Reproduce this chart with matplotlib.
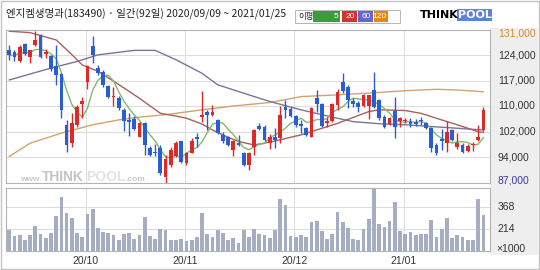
import matplotlib
matplotlib.use('Agg')
import matplotlib.pyplot as plt
import matplotlib.transforms as mtransforms
from matplotlib.patches import Rectangle
import numpy as np
import pandas as pd

plt.rcParams['font.family'] = ['Noto Sans CJK KR', 'DejaVu Sans']

# 일봉 데이터 (단위: 천원)
opens = [125.0, 124.4, 121.8, 126.9, 123.0, 126.6, 129.5, 124.0, 123.4, 120.5,
         118.2, 103.6, 98.3, 103.6, 109.5, 116.0, 126.3, 119.9, 118.9, 114.8,
         111.5, 111.3, 107.9, 105.1, 105.3, 100.2, 104.2, 96.9, 95.9, 96.9,
         88.7, 92.1, 94.5, 98.8, 92.5, 95.6, 100.2, 105.8, 107.4, 106.5,
         105.0, 100.7, 100.0, 96.4, 98.5, 95.6, 92.1, 97.3, 103.3, 103.1,
         98.3, 100.0, 99.7, 108.7, 108.1, 106.2, 103.8, 102.8, 100.2, 111.2,
         109.6, 104.0, 104.8, 109.3, 116.0, 114.6, 110.3, 109.8, 109.0, 109.0,
         113.6, 110.6, 105.8, 103.9, 107.7, 104.8, 104.6, 104.5, 104.5, 105.0,
         104.2, 102.6, 97.8, 99.5, 98.3, 102.1, 97.2, 97.8, 96.2, 97.8,
         99.3, 102.1]
highs = [126.6, 125.1, 126.6, 127.1, 125.1, 130.6, 129.8, 125.3, 123.7, 126.6,
         118.4, 105.0, 106.9, 109.3, 111.5, 120.8, 129.0, 120.8, 119.4, 115.1,
         114.5, 112.0, 108.4, 107.0, 106.0, 104.5, 104.5, 97.4, 98.0, 97.8,
         94.9, 97.3, 98.8, 99.0, 95.9, 99.7, 101.2, 113.2, 107.9, 109.3,
         105.2, 101.6, 100.4, 99.1, 100.7, 95.9, 95.9, 102.3, 104.0, 103.6,
         101.0, 102.6, 109.0, 110.8, 108.7, 106.5, 105.0, 103.1, 108.6, 113.6,
         109.8, 105.8, 109.8, 113.8, 118.4, 115.1, 111.2, 110.3, 112.5, 112.2,
         118.9, 111.0, 106.5, 105.8, 111.7, 105.8, 105.6, 105.5, 105.2, 105.8,
         104.5, 103.1, 98.3, 102.3, 104.8, 102.3, 101.2, 98.3, 98.1, 98.6,
         103.6, 108.8]
lows = [122.3, 121.8, 121.6, 123.7, 121.3, 126.3, 122.7, 122.7, 119.2, 115.1,
        105.5, 95.9, 97.3, 103.1, 105.5, 114.0, 121.3, 118.0, 114.6, 111.2,
        109.0, 107.9, 101.7, 100.3, 102.0, 100.0, 95.0, 94.5, 94.5, 89.2,
        87.0, 91.6, 94.3, 92.7, 92.1, 95.4, 97.3, 104.5, 102.1, 106.2,
        101.0, 98.3, 97.5, 94.7, 97.5, 91.8, 90.6, 95.0, 102.1, 98.8,
        96.6, 96.9, 98.3, 105.5, 105.8, 103.1, 101.2, 100.4, 100.0, 107.4,
        103.1, 103.1, 104.5, 107.9, 112.7, 108.4, 108.6, 107.4, 108.6, 105.2,
        108.4, 105.0, 102.6, 103.6, 99.7, 103.1, 104.0, 103.1, 103.3, 103.6,
        102.3, 95.9, 94.9, 96.4, 95.9, 99.0, 96.6, 95.6, 95.9, 96.2,
        98.8, 101.7]
closes = [123.7, 123.2, 126.1, 124.0, 125.0, 128.0, 123.0, 124.4, 119.6, 118.0,
          107.9, 97.8, 104.0, 108.8, 110.5, 120.5, 123.7, 118.4, 115.1, 111.7,
          112.0, 108.4, 104.8, 104.5, 102.4, 104.2, 97.8, 94.8, 95.6, 89.7,
          93.9, 96.4, 98.3, 93.0, 95.4, 98.8, 99.6, 106.5, 106.5, 107.4,
          101.2, 98.8, 97.8, 98.8, 97.8, 92.1, 95.6, 102.1, 102.3, 99.3,
          100.2, 99.3, 106.5, 107.9, 106.2, 103.6, 103.3, 100.7, 108.4, 109.6,
          103.3, 104.8, 109.6, 112.9, 113.2, 110.8, 109.6, 108.6, 112.2, 112.2,
          108.6, 105.5, 102.9, 105.5, 102.9, 105.5, 105.0, 103.9, 103.9, 104.6,
          102.6, 96.9, 95.4, 98.8, 101.4, 99.3, 98.3, 95.9, 97.5, 98.1,
          100.2, 107.9]
volumes = [203, 160, 172, 136, 172, 234, 179, 148, 187, 303,
           435, 327, 287, 187, 155, 315, 354, 222, 191, 184,
           172, 132, 179, 187, 143, 167, 299, 160, 143, 210,
           206, 132, 136, 141, 124, 136, 155, 323, 179, 155,
           203, 187, 136, 148, 115, 203, 155, 210, 179, 167,
           148, 203, 423, 377, 160, 155, 172, 155, 258, 268,
           196, 143, 179, 334, 258, 222, 143, 136, 215, 280,
           513, 246, 227, 268, 399, 198, 179, 191, 172, 179,
           175, 275, 155, 215, 287, 148, 172, 155, 136, 132,
           423, 311]

# 이동평균선 (화면에서 읽은 값)
ma20_idx = [0, 4, 9, 12, 14, 17, 21, 25, 29, 32, 34, 37, 39, 42, 44, 47, 50,
            56, 63, 69, 71, 76, 79, 83, 87, 90, 91]
ma20_val = [130.5, 130.1, 128.0, 123.8, 120.8, 119.0, 115.2, 111.2, 106.9, 106.1,
            105.5, 103.8, 102.1, 100.0, 98.8, 97.8, 98.6, 100.7, 104.0, 107.4,
            107.9, 107.7, 106.9, 105.0, 103.1, 101.6, 101.4]
ma60_idx = [0, 8, 13, 17, 24, 28, 32, 37, 40, 46, 50, 56, 62, 66, 71, 76, 81, 86, 91]
ma60_val = [116.5, 119.9, 121.8, 123.7, 125.0, 125.0, 122.3, 118.4, 115.1, 112.2,
            110.3, 107.9, 105.8, 104.5, 103.9, 103.6, 103.1, 102.6, 102.1]
ma120_idx = [0, 4, 10, 16, 21, 25, 30, 37, 43, 50, 56, 63, 69, 76, 82, 86, 91]
ma120_val = [94.5, 98.3, 101.2, 103.6, 105.0, 105.8, 106.5, 107.9, 109.0, 110.0,
             111.7, 112.2, 112.7, 113.4, 113.8, 113.6, 113.1]

price_labels = ['87,000', '94,000', '102,000', '110,000', '117,000', '124,000', '131,000']
vol_labels = ['214', '368']
month_idx = [15, 34, 55, 76]
month_labels = ['20/10', '20/11', '20/12', '21/01']

df = pd.DataFrame({'o': opens, 'h': highs, 'l': lows, 'c': closes, 'v': volumes}) * 1.0
df[['o', 'h', 'l', 'c']] *= 1000
df['ma5'] = df['c'].rolling(5, min_periods=1).mean()
x = np.arange(len(df))

UP, DOWN = '#dc2a2a', '#2a5cd2'
GRID = '#dddddd'
EDGE = '#b4b4b4'
NARROW = ['Liberation Sans Narrow', 'Liberation Sans']

W, H = 540, 270
fig = plt.figure(figsize=(W / 100, H / 100), dpi=100)
fig.patch.set_facecolor('white')


def box(x0, y0, x1, y1):
    return [x0 / W, 1 - y1 / H, (x1 - x0) / W, (y1 - y0) / H]


# 오른쪽 눈금 영역 배경
fig.patches.append(Rectangle((490 / W, 1 - 255 / H), 48 / W, 227 / H,
                             transform=fig.transFigure, facecolor='#eeeeee',
                             edgecolor='none', zorder=-2))
fig.patches.append(Rectangle((1 / W, 1 / H), 538 / W, 268 / H, transform=fig.transFigure,
                             facecolor='none', edgecolor='#c4c4c4', lw=1, zorder=-1))

ax = fig.add_axes(box(6, 29.5, 490, 182.5))
axv = fig.add_axes(box(6, 188, 490, 251))

lo, hi = 87000, 131000
ticks = np.linspace(lo, hi, 7)
ax.set_ylim(lo, hi)
ax.set_xlim(-0.63, 92.27)
for t in ticks[1:-1]:
    ax.axhline(t, color=GRID, lw=0.8, zorder=0)
for m in month_idx:
    ax.axvline(m - 0.3, color=GRID, lw=0.8, zorder=0)
    axv.axvline(m - 0.3, color=GRID, lw=0.8, zorder=0)

# 워터마크
wm = [('www.', 20, 6, '#c8c8c8'), ('THINK', 42, 10, '#c4c4c4'),
      ('POOL', 86, 10, '#e2e2e2'), ('.com', 125, 6, '#c8c8c8')]
for txt, px, fs, col in wm:
    ax.text((px - 6) / 484, 0.012, txt, transform=ax.transAxes, fontsize=fs, color=col,
            fontweight='bold', family='Liberation Sans', zorder=1)

# 이동평균선
ax.plot(np.array(ma120_idx), np.array(ma120_val) * 1000, color='#d2a46a', lw=1.0, zorder=2)
ax.plot(np.array(ma60_idx), np.array(ma60_val) * 1000, color='#7d739a', lw=1.0, zorder=2)
ax.plot(np.array(ma20_idx), np.array(ma20_val) * 1000, color='#a86060', lw=1.0, zorder=2)
ax.plot(x, df['ma5'], color='#86b86a', lw=1.0, zorder=2)

# 캔들
up = df['c'] >= df['o']
colors = np.where(up, UP, DOWN)
body_lo = np.minimum(df['o'], df['c'])
body_h = np.maximum((df['c'] - df['o']).abs(), 300)
ax.vlines(x, df['l'], df['h'], colors=colors, lw=1.0, zorder=3)
ax.bar(x, body_h, bottom=body_lo, width=0.72, color=colors, zorder=4)

# 오른쪽 가격 눈금
tr = mtransforms.blended_transform_factory(ax.transAxes, ax.transData)
label_pos = list(ticks)
label_pos[0] = ticks[0] + 600
label_pos[-1] = ticks[-1] - 1200
for i, (p, lab) in enumerate(zip(label_pos, price_labels)):
    col = '#333333'
    if i == 0:
        col = '#3a3aa0'
    if i == len(price_labels) - 1:
        col = '#d08a3a'
    ax.text(1.016, p, lab, transform=tr, fontsize=7.5, color=col, va='center',
            ha='left', family=NARROW, clip_on=False)

for a in (ax, axv):
    a.set_xticks([])
    a.set_yticks([])
    for s in a.spines.values():
        s.set_color(EDGE)
        s.set_linewidth(0.8)
    a.set_facecolor('white')

# 거래량
axv.set_xlim(-0.63, 92.27)
axv.set_ylim(57, 500)
vol_ticks = [214, 368]
for t in vol_ticks:
    axv.axhline(t, color=GRID, lw=0.8, zorder=0)
axv.bar(x, df['v'], width=0.72, color='#a5adc2', zorder=2)
trv = mtransforms.blended_transform_factory(axv.transAxes, axv.transData)
for t, lab in zip(vol_ticks, vol_labels):
    axv.text(1.016, t, lab, transform=trv, fontsize=7.5, color='#333333', va='center',
             ha='left', family=NARROW, clip_on=False)
axv.text(1.012, 73, '×1000', transform=trv, fontsize=7.5, color='#333333', va='center',
         ha='left', family=NARROW, clip_on=False)

trx = mtransforms.blended_transform_factory(axv.transData, axv.transAxes)
for m, lab in zip(month_idx, month_labels):
    axv.text(m - 0.3, -0.085, lab, transform=trx, fontsize=7.5, color='#333333', ha='center',
             va='top', family=NARROW, clip_on=False)

# 헤더
fig.text(6 / W, 1 - 13 / H, '엔지켐생명과(183490) · 일간(92일) 2020/09/09 ~ 2021/01/25',
         fontsize=7.5, color='#222222', va='center', ha='left')
fig.patches.append(Rectangle((295 / W, 1 - 23 / H), 105 / W, 13 / H, transform=fig.transFigure,
                             facecolor='white', edgecolor='#aaaaaa', lw=0.6, zorder=1))
fig.text(298 / W, 1 - 16.5 / H, '이평', fontsize=6, color='#222222', va='center', ha='left',
         zorder=5)
badges = [('5', '#3c9c3c', 313, 340), ('20', '#cf3333', 342, 357),
          ('60', '#6666cc', 358, 373), ('120', '#e08a14', 374, 388)]
for lab, col, x0, x1 in badges:
    fig.patches.append(Rectangle((x0 / W, 1 - 22 / H), (x1 - x0) / W, 11 / H,
                                 transform=fig.transFigure, facecolor=col, edgecolor='none',
                                 zorder=2))
    fig.text((x1 - 2) / W, 1 - 16.5 / H, lab, fontsize=6, color='white', va='center',
             ha='right', family=NARROW, zorder=5)

fig.text(420 / W, 1 - 15 / H, 'THINK', fontsize=8, color='black', fontweight='bold',
         va='center', ha='left', family='DejaVu Sans')
fig.patches.append(Rectangle((457 / W, 1 - 21 / H), 35 / W, 12 / H, transform=fig.transFigure,
                             facecolor='#5d82d8', edgecolor='none', zorder=2))
fig.text(458 / W, 1 - 15 / H, 'POOL', fontsize=8, color='white', fontweight='bold',
         va='center', ha='left', family='DejaVu Sans', zorder=5)

fig.savefig('out.png', dpi=100)
